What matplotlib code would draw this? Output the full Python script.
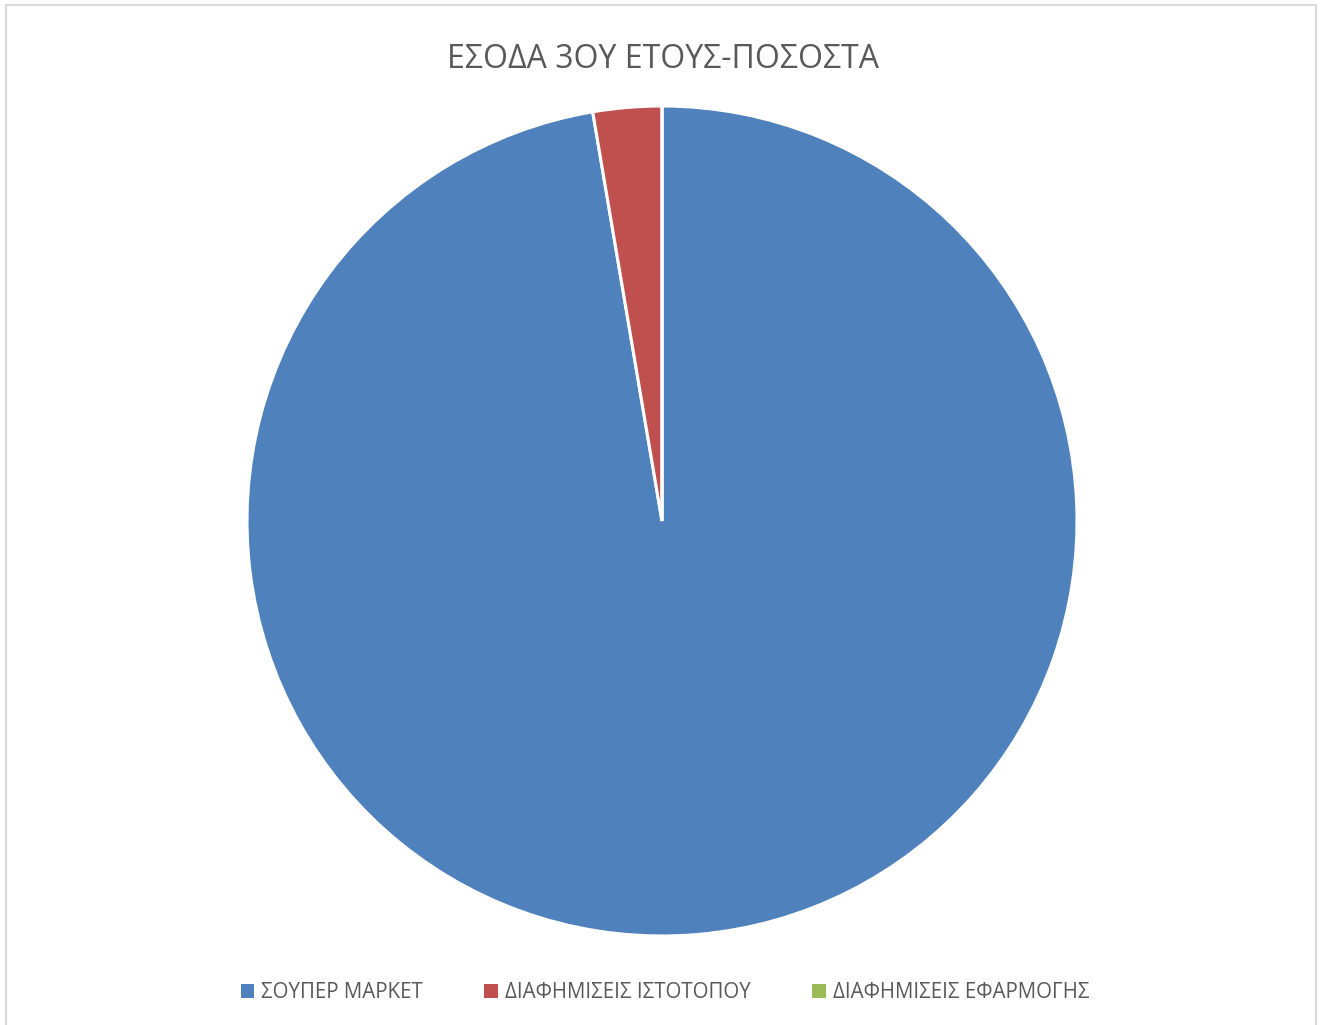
import matplotlib
matplotlib.use("Agg")
from matplotlib import pyplot as plt
from matplotlib.patches import Rectangle, Patch

plt.rcParams["font.family"] = ["Open Sans", "DejaVu Sans"]

title = "ΕΣΟΔΑ 3ΟΥ ΕΤΟΥΣ-ΠΟΣΟΣΤΑ"
labels = ["ΣΟΥΠΕΡ ΜΑΡΚΕΤ", "ΔΙΑΦΗΜΙΣΕΙΣ ΙΣΤΟΤΟΠΟΥ", "ΔΙΑΦΗΜΙΣΕΙΣ ΕΦΑΡΜΟΓΗΣ"]
shares = [97.33, 2.67, 0.0]
colors = ["#4f81bd", "#c0504d", "#9bbb59"]
text_col = "#595959"

W, H = 1325, 1025
fig = plt.figure(figsize=(W / 100, H / 100), dpi=100)

# chart area frame
fig.patches.append(Rectangle((6 / W, -0.01), (1316 - 6) / W, (H - 5) / H + 0.01,
                             transform=fig.transFigure, fill=False,
                             edgecolor="#d9d9d9", linewidth=1.5))

cx, cy, r = 662, H - 521, 415
ax = fig.add_axes([(cx - r) / W, (cy - r) / H, 2 * r / W, 2 * r / H])
ax.pie(shares, colors=colors, startangle=90, counterclock=False, radius=1,
       wedgeprops=dict(edgecolor="white", linewidth=2.2))
ax.set_xlim(-1.0, 1.0)
ax.set_ylim(-1.0, 1.0)
ax.set_aspect("equal")

fig.text(663 / W, 1 - 59 / H, title, ha="center", va="center",
         fontsize=23, color=text_col)

handles = [Patch(facecolor=c, edgecolor="none") for c in colors]
fig.legend(handles, labels, loc="center", bbox_to_anchor=(665 / W, 1 - 993 / H),
           ncol=3, frameon=False, fontsize=14.8, labelcolor=text_col,
           handlelength=0.65, handleheight=0.65, handletextpad=0.35,
           columnspacing=3.0)

plt.savefig("out.png", dpi=100)
